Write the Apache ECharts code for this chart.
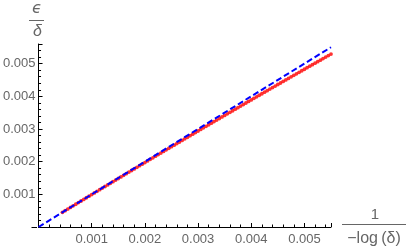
<!DOCTYPE html>
<html>
<head>
<meta charset="utf-8">
<script src="https://cdn.jsdelivr.net/npm/echarts@6/dist/echarts.min.js"></script>
<style>
html,body{margin:0;padding:0;background:#fff;}
#c{width:409px;height:251px;}
</style>
</head>
<body>
<div id="c"></div>
<script>
// ---- data ----
const xTicks = [0.001, 0.002, 0.003, 0.004, 0.005];
const yTicks = [0.001, 0.002, 0.003, 0.004, 0.005];
const xLabel = ['1', '\u2212log\u2009(\u03B4)'];
const yLabel = ['\u03F5', '\u03B4'];

// red points: eps/delta vs 1/(-log delta)
const redX = [0.00045,0.0005,0.00055,0.0006,0.00065,0.0007,0.00075,0.0008,0.00085,0.0009,0.00095,0.001,0.00105,0.0011,0.00115,0.0012,0.00125,0.0013,0.00135,0.0014,0.00145,0.0015,0.00155,0.0016,0.00165,0.0017,0.00175,0.0018,0.00185,0.0019,0.00195,0.002,0.00205,0.0021,0.00215,0.0022,0.00225,0.0023,0.00235,0.0024,0.00245,0.0025,0.00255,0.0026,0.00265,0.0027,0.00275,0.0028,0.00285,0.0029,0.00295,0.003,0.00305,0.0031,0.00315,0.0032,0.00325,0.0033,0.00335,0.0034,0.00345,0.0035,0.00355,0.0036,0.00365,0.0037,0.00375,0.0038,0.00385,0.0039,0.00395,0.004,0.00405,0.0041,0.00415,0.0042,0.00425,0.0043,0.00435,0.0044,0.00445,0.0045,0.00455,0.0046,0.00465,0.0047,0.00475,0.0048,0.00485,0.0049,0.00495,0.005,0.00505,0.0051,0.00515,0.0052,0.00525,0.0053,0.00535,0.0054,0.00545,0.0055];
const redY = [0.0004486,0.0004983,0.0005479,0.0005975,0.0006471,0.0006966,0.0007461,0.0007956,0.000845,0.0008944,0.0009438,0.0009931,0.0010424,0.0010917,0.0011409,0.0011901,0.0012392,0.0012883,0.0013374,0.0013865,0.0014355,0.0014845,0.0015334,0.0015823,0.0016312,0.0016801,0.0017289,0.0017776,0.0018264,0.0018751,0.0019238,0.0019724,0.002021,0.0020696,0.0021181,0.0021666,0.0022151,0.0022635,0.0023119,0.0023603,0.0024086,0.0024569,0.0025051,0.0025534,0.0026015,0.0026497,0.0026978,0.0027459,0.002794,0.002842,0.00289,0.0029379,0.0029858,0.0030337,0.0030815,0.0031293,0.0031771,0.0032249,0.0032726,0.0033202,0.0033679,0.0034155,0.003463,0.0035106,0.0035581,0.0036055,0.003653,0.0037004,0.0037477,0.0037951,0.0038423,0.0038896,0.0039368,0.003984,0.0040312,0.0040783,0.0041254,0.0041724,0.0042194,0.0042664,0.0043134,0.0043603,0.0044072,0.004454,0.0045008,0.0045476,0.0045943,0.004641,0.0046877,0.0047343,0.0047809,0.0048275,0.004874,0.0049205,0.004967,0.0050134,0.0050598,0.0051062,0.0051525,0.0051988,0.0052451,0.0052913];

// blue dashed reference line y = x
const blueX = [0, 0.0055];
const blueY = [0, 0.0055];

const chart = echarts.init(document.getElementById('c'), null, {renderer: 'canvas'});
const labelColor = '#666666';
const font = '"Liberation Sans", Arial, sans-serif';

function fmt(ticks) {
  return function (v) {
    for (const t of ticks) if (Math.abs(v - t) < 1e-9) return t.toFixed(3);
    return '';
  };
}

const axisCommon = {
  type: 'value',
  min: 0,
  interval: 0.001,
  splitLine: {show: false},
  axisLine: {show: true, onZero: false, lineStyle: {color: '#000', width: 1}},
  axisTick: {show: true, inside: true, length: 4, lineStyle: {color: '#000', width: 1}},
  minorTick: {show: true, splitNumber: 5, length: 2.5, lineStyle: {color: '#000', width: 1}},
  minorSplitLine: {show: false},
  showMaxLabel: false
};

chart.setOption({
  animation: false,
  backgroundColor: '#fff',
  grid: {left: 37, right: 78, top: 44, bottom: 24, containLabel: false},
  xAxis: Object.assign({}, axisCommon, {
    max: 0.0055,
    axisLabel: {color: labelColor, fontSize: 13, fontFamily: font, margin: 6, formatter: fmt(xTicks)}
  }),
  yAxis: Object.assign({}, axisCommon, {
    max: 0.0056,
    axisLabel: {color: labelColor, fontSize: 13, fontFamily: font, margin: 3, formatter: fmt(yTicks)}
  }),
  series: [
    {
      type: 'scatter',
      data: redX.map((x, i) => [x, redY[i]]),
      symbol: 'circle',
      symbolSize: 3.8,
      itemStyle: {color: '#ff0000'},
      z: 2
    },
    {
      type: 'line',
      data: blueX.map((x, i) => [x, blueY[i]]),
      showSymbol: false,
      lineStyle: {color: '#0000ff', width: 2, type: [6, 3]},
      z: 3
    }
  ],
  graphic: [
    // axis overhang at origin
    {type: 'line', shape: {x1: 31.5, y1: 227.5, x2: 37, y2: 227.5}, style: {stroke: '#000', lineWidth: 1}},
    // y axis name (fraction)
    {type: 'text', x: 37, y: 9, style: {text: yLabel[0], font: 'italic 16px "DejaVu Sans", sans-serif', fill: labelColor, align: 'center', verticalAlign: 'middle'}},
    {type: 'line', shape: {x1: 29, y1: 20.5, x2: 44, y2: 20.5}, style: {stroke: labelColor, lineWidth: 1}},
    {type: 'text', x: 37.5, y: 32, style: {text: yLabel[1], font: 'italic 16px "Liberation Sans", Arial, sans-serif', fill: labelColor, align: 'center', verticalAlign: 'middle'}},
    // x axis name (fraction)
    {type: 'text', x: 375, y: 215, style: {text: xLabel[0], font: '15px "Liberation Sans", Arial, sans-serif', fill: labelColor, align: 'center', verticalAlign: 'middle'}},
    {type: 'line', shape: {x1: 342, y1: 224.5, x2: 406, y2: 224.5}, style: {stroke: labelColor, lineWidth: 1}},
    {type: 'text', x: 374, y: 239, style: {text: xLabel[1], font: '16px "Liberation Sans", Arial, sans-serif', fill: labelColor, align: 'center', verticalAlign: 'middle'}}
  ]
});
</script>
</body>
</html>
